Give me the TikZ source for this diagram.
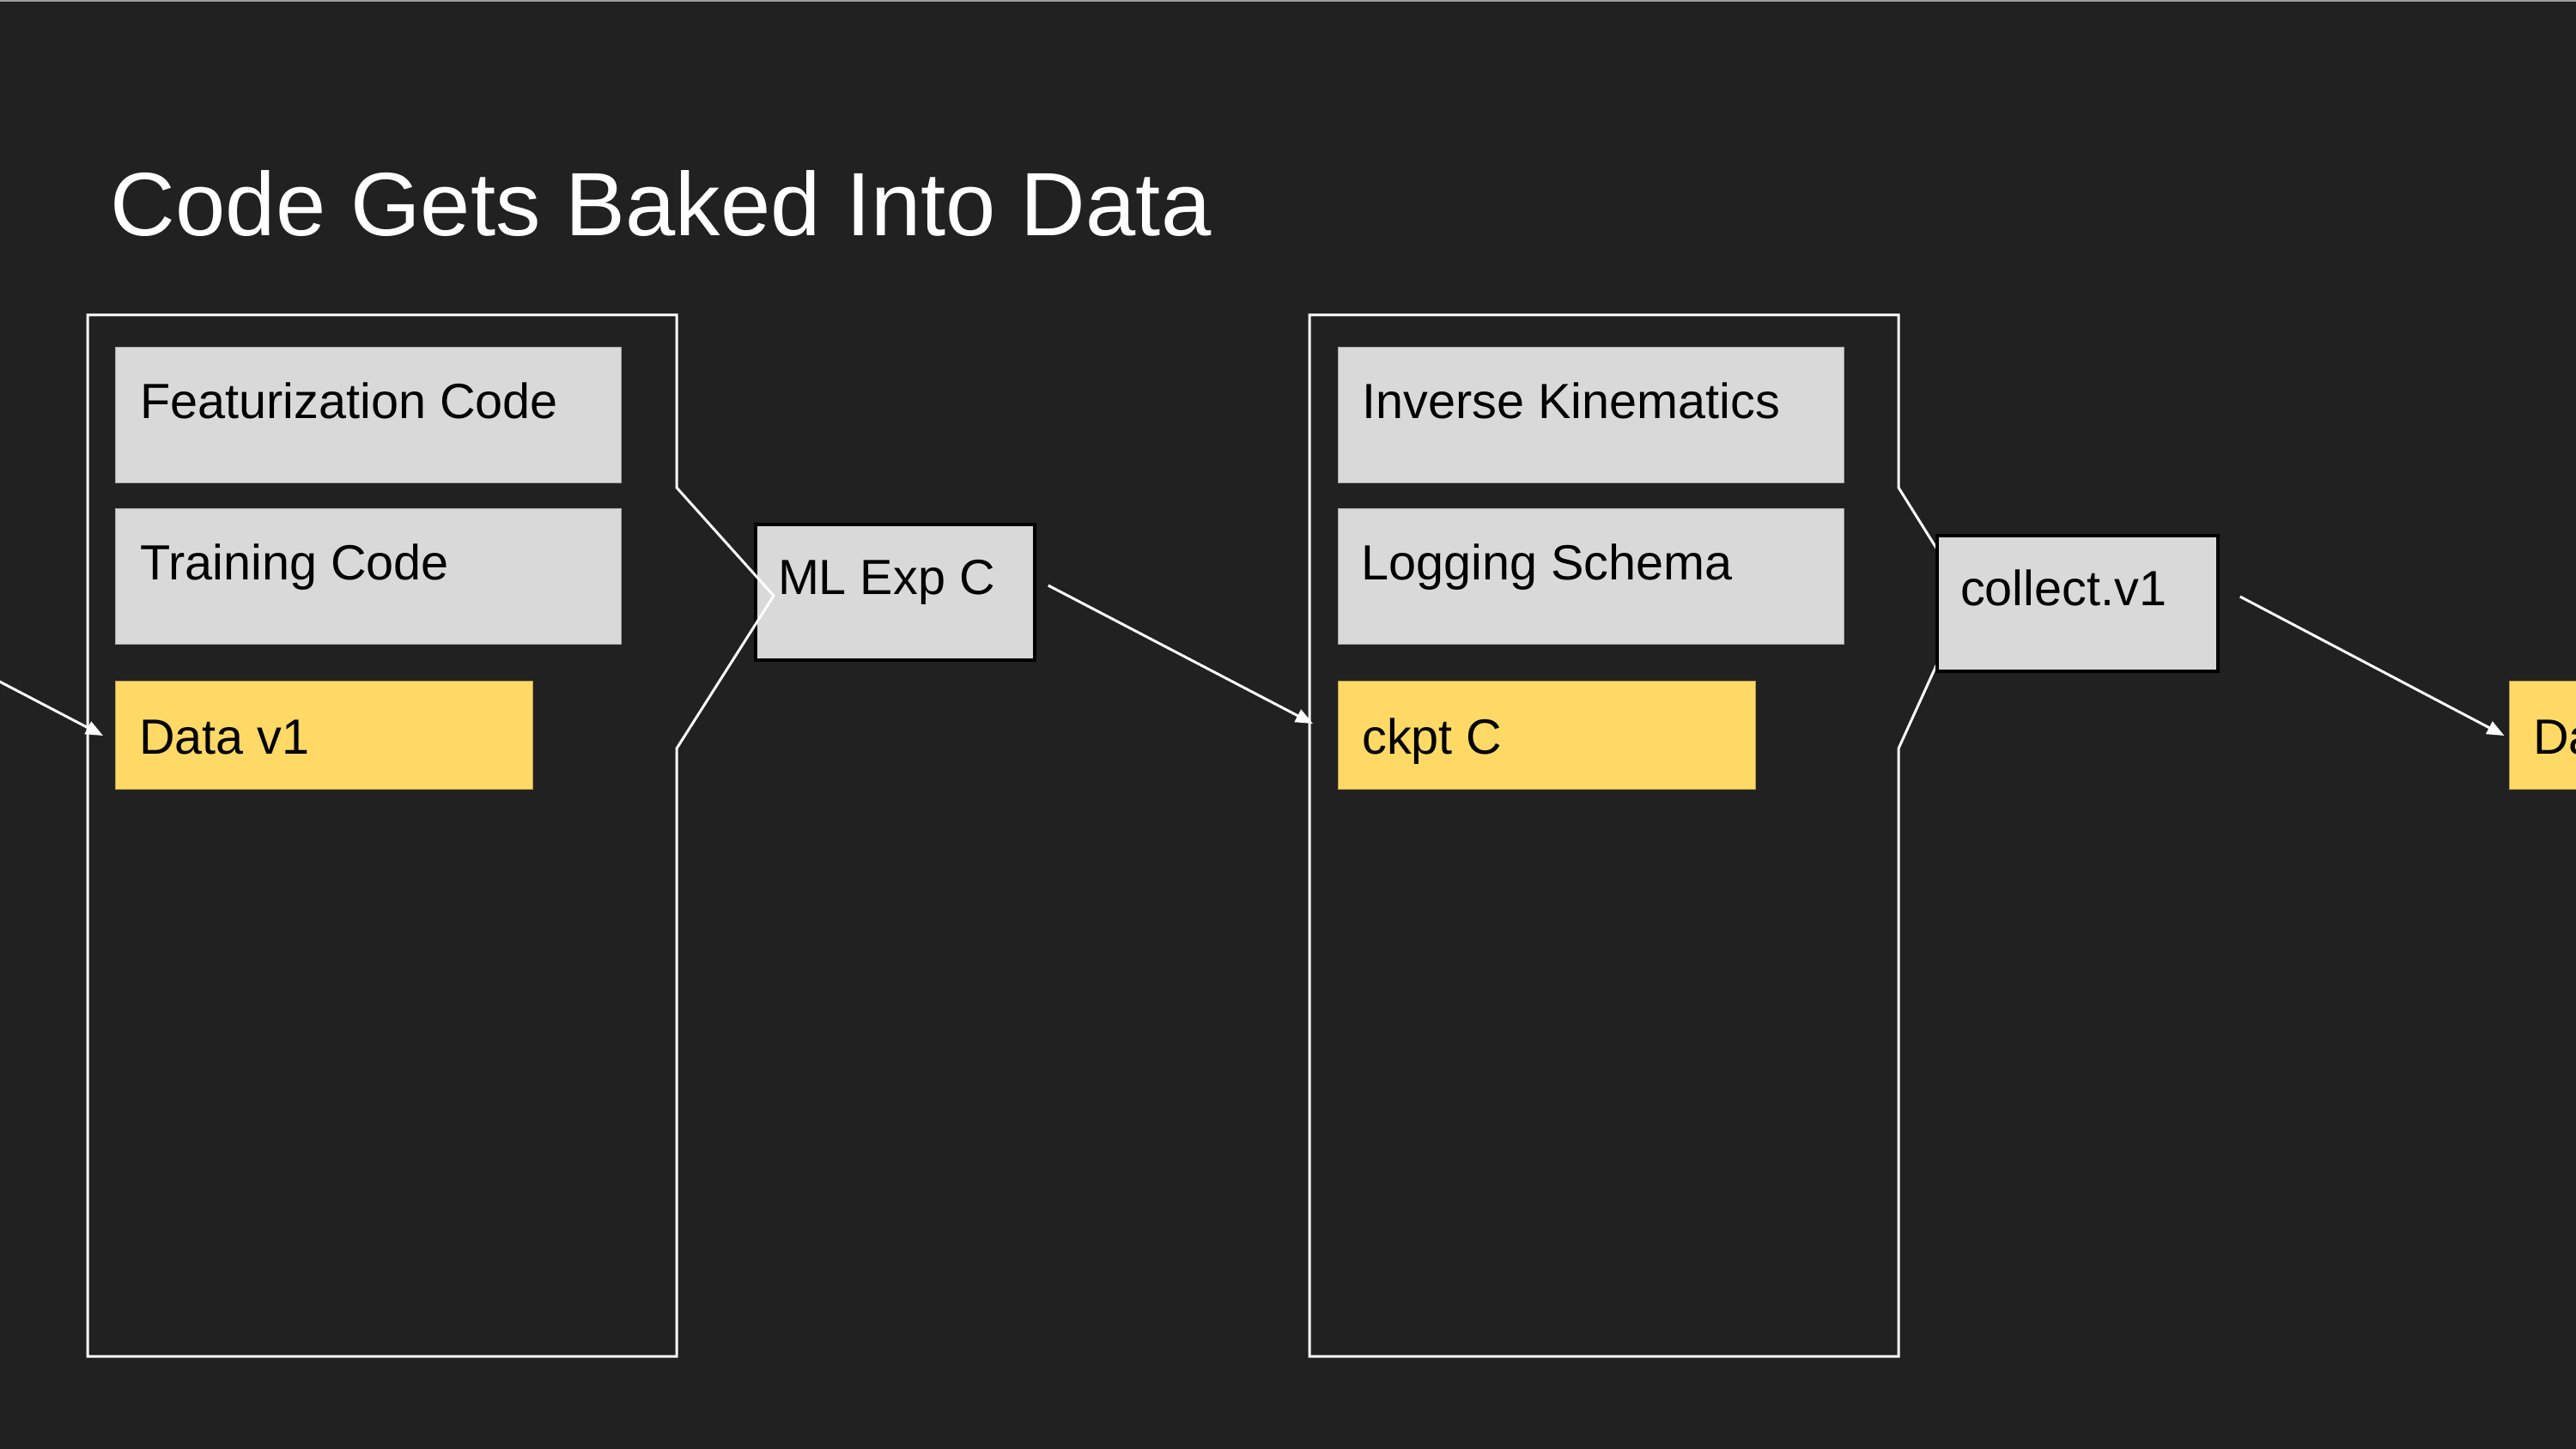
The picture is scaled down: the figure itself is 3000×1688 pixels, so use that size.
\documentclass[tikz,border=0pt]{standalone}
\usepackage{fontspec}
\setmainfont{Liberation Sans}
\usetikzlibrary{arrows.meta,calc}
\definecolor{bg}{HTML}{212121}
\definecolor{boxgray}{HTML}{D9D9D9}
\definecolor{boxgrayedge}{HTML}{A6A6A6}
\definecolor{boxyellow}{HTML}{FFD966}
\definecolor{boxyellowedge}{HTML}{B89A4A}
\definecolor{topline}{HTML}{9E9E9E}
\tikzset{
  graybox/.style={draw=boxgrayedge, line width=0.25pt, fill=boxgray, minimum width=147.25pt, minimum height=39.5pt, inner sep=0pt},
  yellowbox/.style={draw=boxyellowedge, line width=0.25pt, fill=boxyellow, minimum width=121.5pt, minimum height=31.5pt, inner sep=0pt},
  stagebox/.style={draw=black, line width=0.9pt, fill=boxgray, minimum height=39.5pt, inner sep=0pt},
  boxtext/.style={anchor=base west, inner sep=0pt, text=black, font=\fontsize{14.4pt}{17pt}\selectfont},
  container/.style={draw=white, line width=0.75pt, line join=miter},
  flow/.style={draw=white, line width=0.75pt, -{Triangle[length=5pt, width=4pt]}}
}
\begin{document}
\begin{tikzpicture}[x=0.25pt, y=-0.25pt]
\clip (0,0) rectangle (3000,1688);
\fill[bg] (0,0) rectangle (3000,1688);
\fill[topline] (0,0) rectangle (3000,2);
% title
\node[anchor=base west, inner sep=0pt, text=white, font=\fontsize{26.2pt}{31pt}\selectfont] (title) at (128,275) {Code Gets Baked Into Data};

% ---- left stage ----
\node[graybox] (feat) at (428.5,484) {};
\node[boxtext] (feattxt) at ($(feat.north west)+(29,83)$) {Featurization Code};
\node[graybox] (train) at (428.5,672) {};
\node[boxtext] (traintxt) at ($(train.north west)+(29,83)$) {Training Code};
\node[yellowbox] (data1) at (377,857) {};
\node[boxtext] (data1txt) at ($(data1.west)+(28,22)$) {Data v1};
\node[stagebox, minimum width=81.25pt] (mlexp) at (1042.5,690) {};
\node[boxtext] (mlexptxt) at ($(mlexp.north west)+(27,83)$) {ML Exp C};
\draw[container] (102,367) -- (788,367) -- (788,568) -- (901,694) -- (788,872) -- (788,1580) -- (102,1580) -- cycle;

% ---- right stage ----
\node[graybox] (ik) at (1852.5,484) {};
\node[boxtext] (iktxt) at ($(ik.north west)+(28,83)$) {Inverse Kinematics};
\node[graybox] (logs) at (1852.5,672) {};
\node[boxtext] (logstxt) at ($(logs.north west)+(27,83)$) {Logging Schema};
\node[yellowbox] (ckpt) at (1801,857) {};
\node[boxtext] (ckpttxt) at ($(ckpt.west)+(28,22)$) {ckpt C};
\draw[container] (1525,367) -- (2211,367) -- (2211,568) -- (2291,696) -- (2211,872) -- (2211,1580) -- (1525,1580) -- cycle;
\node[stagebox, minimum width=81.75pt] (collect) at (2419.5,703) {};
\node[boxtext] (collecttxt) at ($(collect.north west)+(28,83)$) {collect.v1};

% ---- next data (cut off at the right edge) ----
\node[yellowbox] (data2) at (3165,857) {};
\node[boxtext] (data2txt) at ($(data2.west)+(28,22)$) {Data v2};

% ---- connectors ----
\coordinate (in0) at (-10,789);
\coordinate (in1) at (120,857);
\coordinate (m0) at ($(mlexp.east)+(14,-8)$);
\coordinate (m1) at (1529,843);
\coordinate (c0) at ($(collect.east)+(24,-8)$);
\coordinate (c1) at ($(data2.west)+(-5,0)$);
\draw[flow] (in0) -- (in1);
\draw[flow] (m0) -- (m1);
\draw[flow] (c0) -- (c1);
\end{tikzpicture}
\end{document}
